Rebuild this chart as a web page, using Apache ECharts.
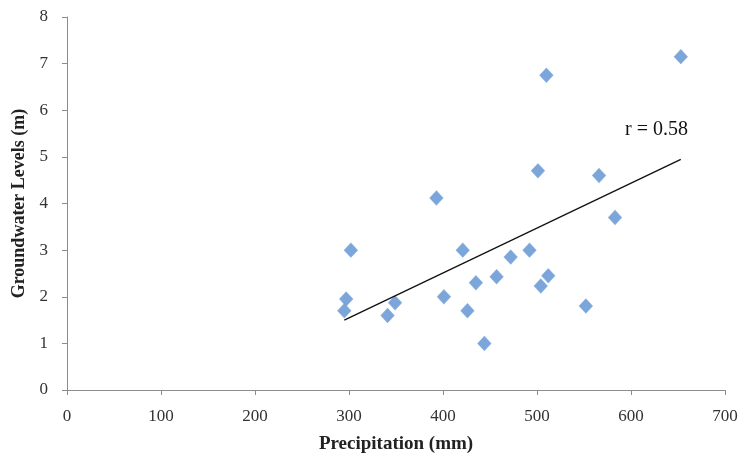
<!DOCTYPE html>
<html>
<head>
<meta charset="utf-8">
<script src="https://cdn.jsdelivr.net/npm/echarts@6/dist/echarts.min.js"></script>
<style>html,body{margin:0;padding:0;background:#fff}#c{width:748px;height:459px}</style>
</head>
<body>
<div id="c"></div>
<script>
var precipitation = [295, 297, 302, 341, 349, 393, 401, 421, 426, 435, 444, 457, 472, 492, 501, 504, 510, 512, 552, 566, 583, 653];
var groundwater = [1.7, 1.95, 3.0, 1.6, 1.87, 4.12, 2.0, 3.0, 1.7, 2.3, 1.0, 2.43, 2.85, 3.0, 4.7, 2.23, 6.75, 2.45, 1.8, 4.6, 3.7, 7.15];
var xTicks = [0, 100, 200, 300, 400, 500, 600, 700];
var yTicks = [0, 1, 2, 3, 4, 5, 6, 7, 8];
var rLabel = 'r = 0.58';

var pts = precipitation.map(function (x, i) { return [x, groundwater[i]]; });
var n = pts.length, sx = 0, sy = 0, sxx = 0, sxy = 0;
pts.forEach(function (p) { sx += p[0]; sy += p[1]; sxx += p[0] * p[0]; sxy += p[0] * p[1]; });
var slope = (n * sxy - sx * sy) / (n * sxx - sx * sx);
var icpt = (sy - slope * sx) / n;
var xMin = Math.min.apply(null, precipitation), xMax = Math.max.apply(null, precipitation);
var trend = [[xMin, icpt + slope * xMin], [xMax, icpt + slope * xMax]];

var font = '"Liberation Serif", "DejaVu Serif", serif';
var chart = echarts.init(document.getElementById('c'));
chart.setOption({
  backgroundColor: '#fff',
  animation: false,
  grid: { left: 67, right: 23, top: 17, bottom: 69 },
  xAxis: {
    type: 'value', min: xTicks[0], max: xTicks[xTicks.length - 1], interval: 100,
    name: 'Precipitation (mm)', nameLocation: 'middle', nameGap: 45,
    nameTextStyle: { fontFamily: font, fontWeight: 'bold', fontSize: 19, color: '#222' },
    axisLine: { lineStyle: { color: '#8c8c8c', width: 1 } },
    axisTick: { show: true, length: 5, lineStyle: { color: '#8c8c8c' } },
    axisLabel: { fontFamily: font, fontSize: 17, color: '#333', margin: 18 },
    splitLine: { show: false }
  },
  yAxis: {
    type: 'value', min: yTicks[0], max: yTicks[yTicks.length - 1], interval: 1,
    name: 'Groundwater Levels (m)', nameLocation: 'middle', nameGap: 37,
    nameTextStyle: { fontFamily: font, fontWeight: 'bold', fontSize: 18, color: '#222' },
    axisLine: { show: true, lineStyle: { color: '#8c8c8c', width: 1 } },
    axisTick: { show: true, length: 5, lineStyle: { color: '#8c8c8c' } },
    axisLabel: { fontFamily: font, fontSize: 17, color: '#333', margin: 19 },
    splitLine: { show: false }
  },
  graphic: [{
    type: 'text', left: 625, top: 120,
    style: { text: rLabel, fontFamily: font, fontSize: 20, fill: '#111' }
  }],
  series: [{
    type: 'scatter',
    data: pts,
    symbol: 'diamond',
    symbolSize: [13, 14],
    itemStyle: { color: '#5b8fcf', borderColor: '#7aa6dc', borderWidth: 1 }
  }, {
    type: 'line',
    data: trend,
    symbol: 'none',
    lineStyle: { color: '#111', width: 1.3 },
    z: 3
  }]
});
</script>
</body>
</html>
